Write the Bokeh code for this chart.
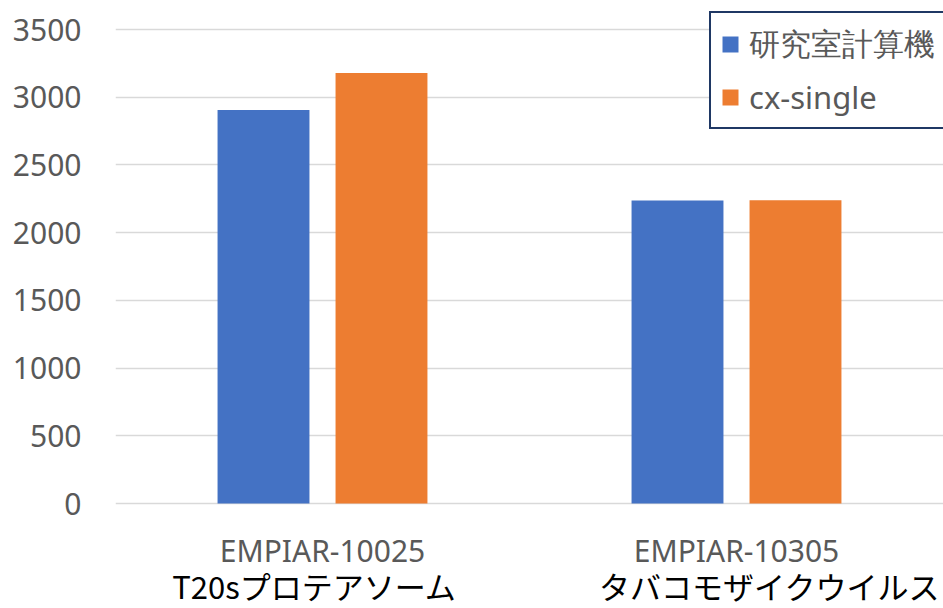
from bokeh.plotting import figure
from bokeh.models import (ColumnDataSource, FactorRange, Range1d, FixedTicker,
                          Legend, LegendItem)
from bokeh.core.properties import value
from bokeh.transform import dodge
from bokeh.embed import file_html
from bokeh.resources import INLINE

categories = ["EMPIAR-10025", "EMPIAR-10305"]
subtitles = ["T20sプロテアソーム", "タバコモザイクウイルス"]
series_names = ["研究室計算機", "cx-single"]
lab_values = [2905, 2238]
cx_values = [3178, 2240]
y_ticks = [0, 500, 1000, 1500, 2000, 2500, 3000, 3500]
colors = ["#4472C4", "#ED7D31"]

# pixel layout of the frame (Excel-like: y=0 at 503 px, y=3500 at 29 px)
FRAME_H = 608
PX_PER_UNIT = (503 - 29) / 3500.0
y_top = 3500 + 29 / PX_PER_UNIT
y_bottom = -(FRAME_H - 503) / PX_PER_UNIT

src = ColumnDataSource(dict(cat=categories, lab=lab_values, cx=cx_values,
                            sub=subtitles, base=[0] * len(categories),
                            sub_dx=[-8, 33]))

p = figure(width=943, height=608, output_backend="svg", toolbar_location=None,
           x_range=FactorRange(*categories, range_padding=0),
           y_range=Range1d(y_bottom, y_top),
           min_border_left=115, min_border_right=0, min_border_top=0,
           min_border_bottom=0)
p.outline_line_color = None
p.background_fill_color = "white"
p.border_fill_color = "white"

r1 = p.vbar(x=dodge("cat", -0.1425, range=p.x_range), top="lab", width=0.222,
            source=src, color=colors[0], line_color=None)
r2 = p.vbar(x=dodge("cat", 0.1425, range=p.x_range), top="cx", width=0.222,
            source=src, color=colors[1], line_color=None)

# category labels (two lines) drawn under the zero line
p.text(x="cat", y="base", text="cat", source=src, y_offset=47,
       text_align="center", text_baseline="middle",
       text_font=value("Noto Sans"), text_font_size="30px",
       text_color="#595959")
p.text(x="cat", y="base", text="sub", source=src, y_offset=82, x_offset="sub_dx",
       text_align="center", text_baseline="middle",
       text_font=value("Noto Sans CJK JP"), text_font_size="31px",
       text_color="#000000")

p.xaxis.visible = False
p.yaxis.ticker = FixedTicker(ticks=y_ticks)
p.ygrid.ticker = FixedTicker(ticks=y_ticks)
p.xgrid.grid_line_color = None
p.ygrid.grid_line_color = "#D9D9D9"
p.ygrid.grid_line_width = 1.3

ax = p.yaxis[0]
ax.axis_line_color = None
ax.major_tick_line_color = None
ax.minor_tick_line_color = None
ax.major_tick_out = 0
ax.major_tick_in = 0
ax.minor_tick_out = 0
ax.major_label_text_font = "Noto Sans"
ax.major_label_text_font_size = "30px"
ax.major_label_text_color = "#595959"
ax.major_label_standoff = 34

legend = Legend(items=[LegendItem(label=series_names[0], renderers=[r1]),
                       LegendItem(label=series_names[1], renderers=[r2])],
                location=(594, 479))
legend.label_text_font = "Noto Sans"
legend.label_text_font_size = "31px"
legend.label_text_color = "#595959"
legend.glyph_width = 20
legend.glyph_height = 20
legend.label_standoff = 9
legend.padding = 9
legend.margin = 0
legend.spacing = 10
legend.label_height = 36
legend.border_line_color = "#1F3864"
legend.border_line_alpha = 1
legend.border_line_width = 2
legend.background_fill_alpha = 1
p.add_layout(legend)

open("out.html", "w").write(file_html(p, INLINE))
